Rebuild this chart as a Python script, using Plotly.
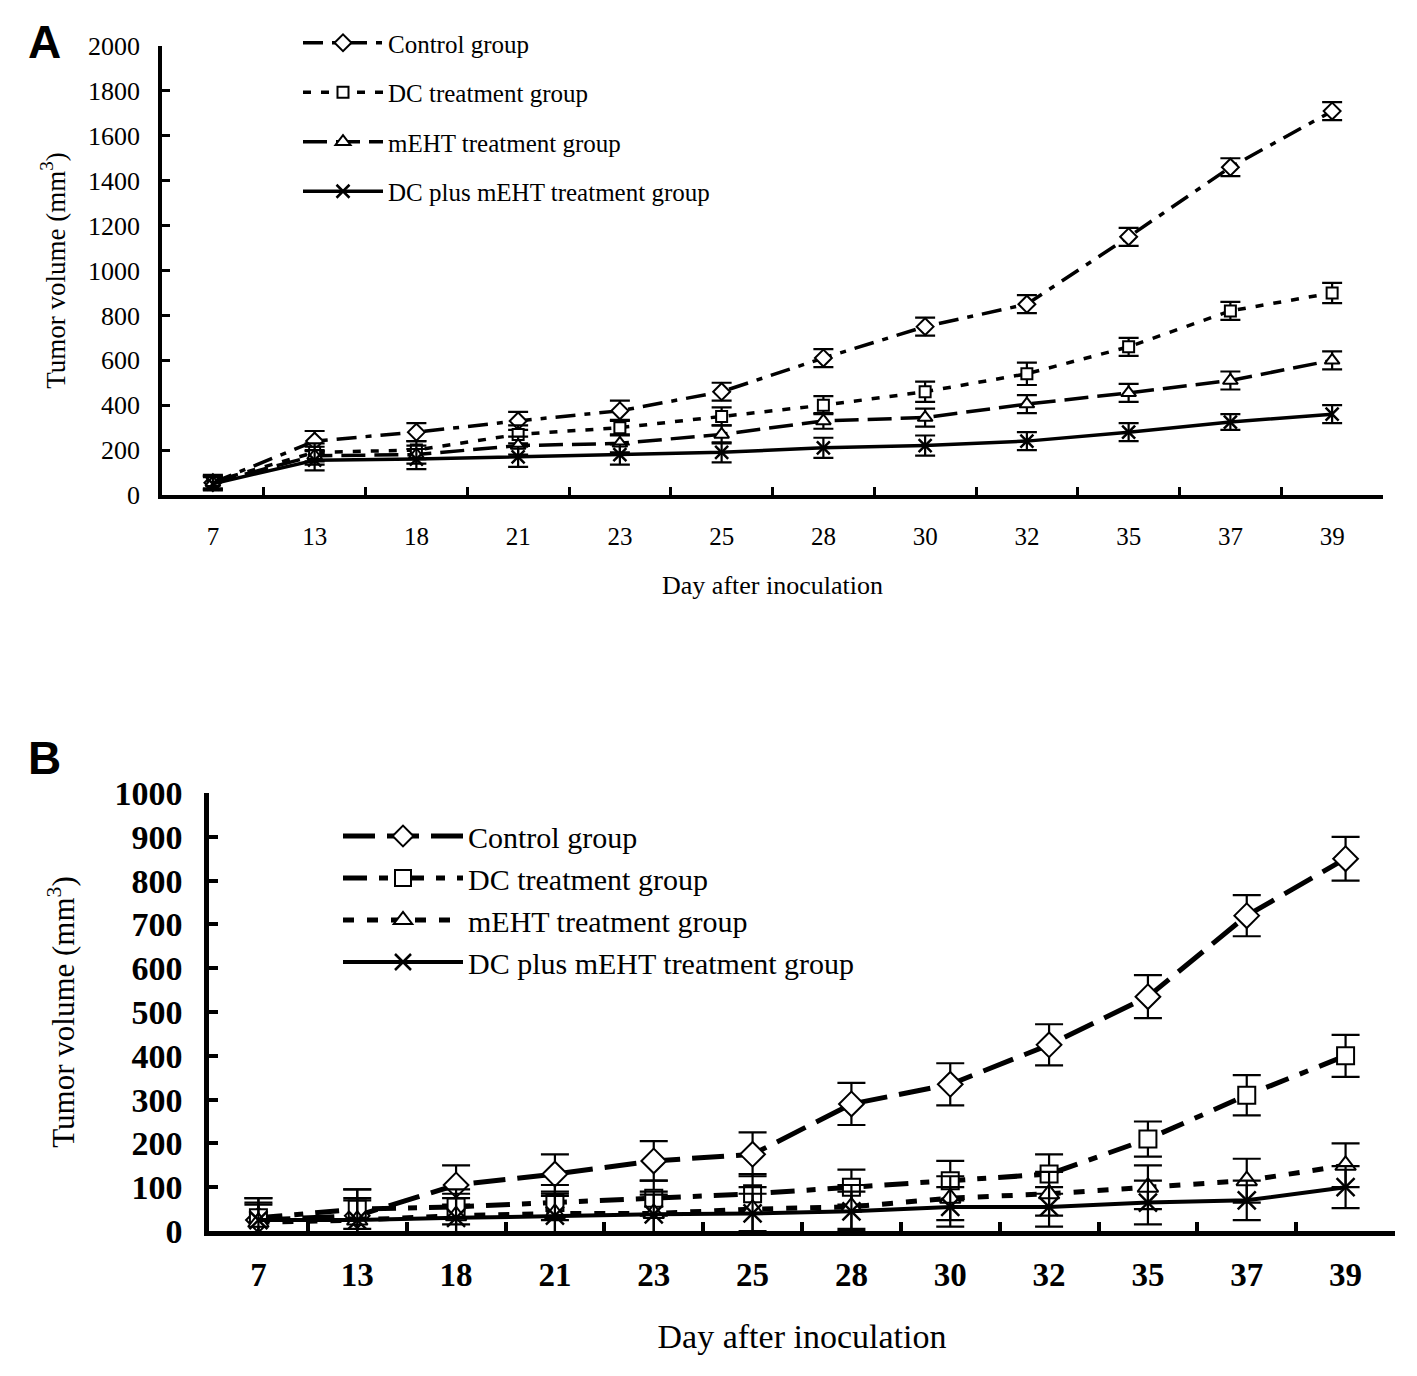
import plotly.graph_objects as go

days = ["7", "13", "18", "21", "23", "25", "28", "30", "32", "35", "37", "39"]
names = ["Control group", "DC treatment group", "mEHT treatment group",
         "DC plus mEHT treatment group"]

# panel A: mean tumour volume and error (mm3)
a_control = [55, 240, 280, 330, 375, 460, 610, 750, 850, 1150, 1460, 1710]
a_control_err = [30, 45, 40, 40, 45, 40, 40, 40, 40, 40, 40, 40]
a_dc = [60, 190, 200, 270, 300, 350, 400, 460, 540, 660, 820, 900]
a_dc_err = [30, 40, 40, 40, 35, 40, 40, 45, 50, 40, 40, 45]
a_meht = [55, 175, 180, 220, 230, 270, 330, 345, 405, 455, 510, 600]
a_meht_err = [30, 40, 40, 40, 40, 40, 35, 40, 40, 40, 40, 40]
a_combo = [50, 155, 160, 170, 180, 190, 210, 220, 240, 280, 325, 360]
a_combo_err = [30, 45, 45, 45, 45, 45, 45, 45, 40, 40, 35, 40]

# panel B
b_control = [25, 35, 105, 130, 160, 175, 290, 335, 425, 535, 720, 850]
b_control_err = [50, 60, 45, 45, 45, 50, 48, 48, 47, 49, 47, 50]
b_dc = [30, 50, 55, 65, 75, 85, 100, 115, 130, 210, 310, 400]
b_dc_err = [45, 45, 40, 40, 40, 45, 40, 45, 45, 40, 46, 48]
b_meht = [20, 25, 35, 40, 40, 50, 55, 75, 85, 100, 115, 150]
b_meht_err = [40, 50, 50, 50, 50, 50, 50, 50, 50, 50, 50, 50]
b_combo = [25, 25, 30, 35, 38, 40, 45, 55, 55, 65, 70, 100]
b_combo_err = [40, 45, 45, 45, 45, 45, 45, 45, 45, 50, 45, 48]

W, H = 1417, 1376
OFF_X, OFF_Y = 6, 8  # page margin around the plot div
SERIF = "Liberation Serif"


def px(x):
    return (x - OFF_X) / W


def py(y):
    return 1 - (y - OFF_Y) / H


fig = go.Figure()


def add_series(y, err, name, xa, ya, legend, dash, lw, symbol, msize, capw):
    x_symbol = symbol.startswith("x")
    fig.add_trace(go.Scatter(
        x=days, y=y, name=name, xaxis=xa, yaxis=ya, legend=legend,
        legendgroup=legend + name, mode="lines+markers",
        line=dict(color="black", width=lw, dash=dash),
        marker=dict(symbol=symbol, size=msize,
                    color="black" if x_symbol else "white",
                    line=dict(color="black", width=2.5 if x_symbol else 2)),
        error_y=dict(type="data", array=err, color="black", thickness=2.2, width=capw),
    ))


# panel A
add_series(a_control, a_control_err, names[0], "x", "y", "legend",
           "20px,9px,6px,9px", 3.5, "diamond", 13, 10)
add_series(a_dc, a_dc_err, names[1], "x", "y", "legend",
           "8px,10px", 3.5, "square", 11, 10)
add_series(a_meht, a_meht_err, names[2], "x", "y", "legend",
           "24px,9px", 3.5, "triangle-up", 13, 10)
add_series(a_combo, a_combo_err, names[3], "x", "y", "legend",
           "solid", 3.5, "x-thin", 13, 10)

# panel B
add_series(b_control, b_control_err, names[0], "x2", "y2", "legend2",
           "32px,12px", 5, "diamond", 19, 14)
add_series(b_dc, b_dc_err, names[1], "x2", "y2", "legend2",
           "24px,12px,9px,12px", 5, "square", 17, 14)
add_series(b_meht, b_meht_err, names[2], "x2", "y2", "legend2",
           "11px,13px", 5, "triangle-up", 18, 14)
add_series(b_combo, b_combo_err, names[3], "x2", "y2", "legend2",
           "solid", 4, "x-thin", 18, 14)

axis_common = dict(showline=True, linecolor="black", showgrid=False, zeroline=False,
                   ticks="inside", tickcolor="black", automargin=False)

fig.update_layout(
    template="none",
    width=W, height=H,
    margin=dict(l=0, r=0, t=0, b=0, autoexpand=False),
    paper_bgcolor="white", plot_bgcolor="white",
    font=dict(family=SERIF, color="black"),
    xaxis=dict(axis_common, domain=[px(160), px(1381)], anchor="y", type="category",
               range=[-0.5, 11.5], tickson="boundaries", linewidth=3.5, tickwidth=3,
               ticklen=8, tickfont=dict(size=25), ticklabelstandoff=16,
               title=dict(text="Day after inoculation", font=dict(size=26), standoff=28)),
    yaxis=dict(axis_common, domain=[py(495), py(46)], anchor="x",
               range=[0, 2000], dtick=200, linewidth=3.5, tickwidth=3, ticklen=8,
               tickfont=dict(size=26), ticklabelstandoff=13,
               title=dict(text="Tumor volume (mm<sup>3</sup>)", font=dict(size=27),
                          standoff=16)),
    xaxis2=dict(axis_common, domain=[px(207), px(1393)], anchor="y2", type="category",
                range=[-0.5, 11.5], tickson="boundaries", linewidth=4.5, tickwidth=4,
                ticklen=9, tickfont=dict(size=33, weight="bold"), ticklabelstandoff=11,
                title=dict(text="Day after inoculation", font=dict(size=34), standoff=33)),
    yaxis2=dict(axis_common, domain=[py(1231), py(793)], anchor="x2",
                range=[0, 1000], dtick=100, linewidth=4.5, tickwidth=4, ticklen=9,
                tickfont=dict(size=34, weight="bold"), ticklabelstandoff=15,
                title=dict(text="Tumor volume (mm<sup>3</sup>)", font=dict(size=31),
                           standoff=32)),
    legend=dict(x=px(296), y=py(20), xanchor="left", yanchor="top",
                bgcolor="rgba(0,0,0,0)", font=dict(size=25), itemwidth=80,
                tracegroupgap=14, itemclick=False),
    legend2=dict(x=px(336), y=py(810), xanchor="left", yanchor="top",
                 bgcolor="rgba(0,0,0,0)", font=dict(size=30), itemwidth=120,
                 tracegroupgap=0, itemclick=False),
    annotations=[
        dict(text="<b>A</b>", x=px(24), y=py(42), xref="paper", yref="paper",
             xanchor="left", yanchor="middle", showarrow=False,
             font=dict(family="Liberation Sans", size=46)),
        dict(text="<b>B</b>", x=px(24), y=py(758), xref="paper", yref="paper",
             xanchor="left", yanchor="middle", showarrow=False,
             font=dict(family="Liberation Sans", size=46)),
    ],
)

fig.write_html("out.html")
